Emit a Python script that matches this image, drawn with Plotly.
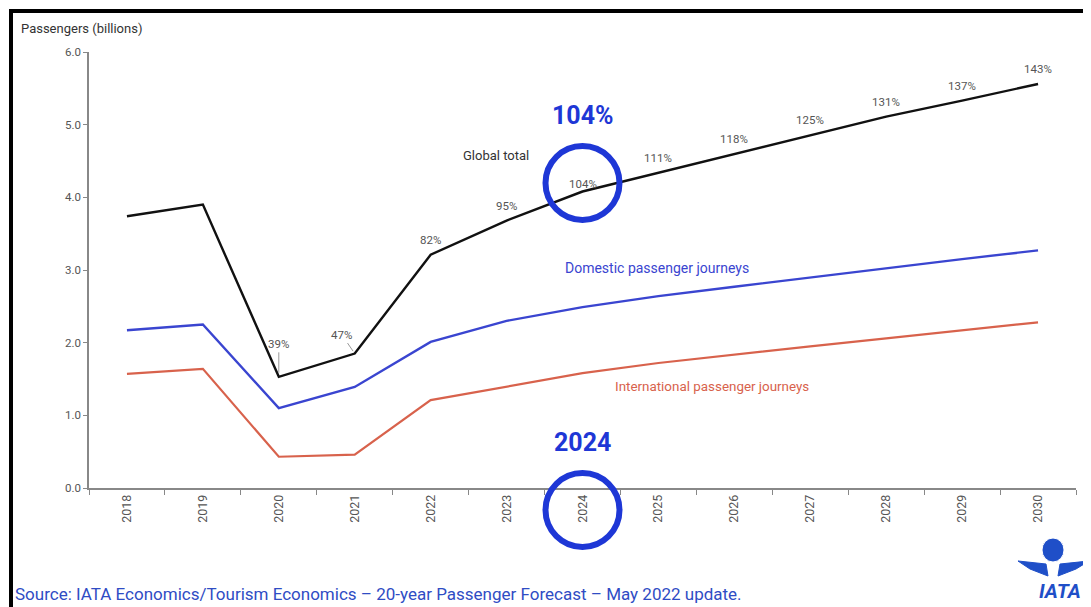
import plotly.graph_objects as go

years = ["2018", "2019", "2020", "2021", "2022", "2023", "2024",
         "2025", "2026", "2027", "2028", "2029", "2030"]
global_total = [3.74, 3.90, 1.53, 1.85, 3.21, 3.68, 4.08, 4.34, 4.60, 4.86, 5.11, 5.33, 5.56]
domestic = [2.17, 2.25, 1.10, 1.39, 2.01, 2.30, 2.49, 2.64, 2.77, 2.90, 3.02, 3.15, 3.27]
international = [1.57, 1.64, 0.43, 0.46, 1.21, 1.39, 1.58, 1.72, 1.84, 1.95, 2.06, 2.17, 2.28]
pct_labels = ["", "", "39%", "47%", "82%", "95%", "104%", "111%", "118%", "125%", "131%", "137%", "143%"]
y_ticks = [0.0, 1.0, 2.0, 3.0, 4.0, 5.0, 6.0]
highlight_year = "2024"
highlight_pct = "104%"

# the page places the figure 8px from the window's top-left corner
OFF = 8
W, H = 1091 - OFF, 607 - OFF
ML, MR, MT = 81, 15, 44
PW, PH = 987, 436
MB = H - MT - PH


def px_x(px):
    return (px - OFF - ML) / PW


def px_y(py):
    return (H - MB - (py - OFF)) / PH


FONT = "Roboto"
GRAY = "#555555"
BLUE = "#1e37d6"
LOGO = "#1f4fc8"

fig = go.Figure()
fig.add_trace(go.Scatter(x=years, y=international, mode="lines",
                         line=dict(color="#d8624c", width=2.2), showlegend=False))
fig.add_trace(go.Scatter(x=years, y=domestic, mode="lines",
                         line=dict(color="#3a45d0", width=2.4), showlegend=False))
fig.add_trace(go.Scatter(x=years, y=global_total, mode="lines",
                         line=dict(color="#111111", width=2.4), showlegend=False))

annotations = []
for i, (v, lab) in enumerate(zip(global_total, pct_labels)):
    if not lab:
        continue
    f = dict(size=11.5, color=GRAY, family=FONT)
    if lab == "39%":
        annotations.append(dict(x=i, y=v, text=lab, showarrow=True, arrowhead=0,
                                arrowwidth=1, arrowcolor="#999999", ax=0, ay=-33,
                                standoff=4, font=f))
    elif lab == "47%":
        annotations.append(dict(x=i, y=v, text=lab, showarrow=True, arrowhead=0,
                                arrowwidth=1, arrowcolor="#999999", ax=-13, ay=-19,
                                standoff=3, font=f))
    else:
        shift = 8 if lab == highlight_pct else 15
        annotations.append(dict(x=i, y=v, text=lab, showarrow=False, yshift=shift, font=f))

hi = years.index(highlight_year)
annotations += [
    dict(x=4.86, y=4.58, text="Global total", showarrow=False,
         font=dict(size=13, color="#333333", family=FONT)),
    dict(x=6.98, y=3.03, text="Domestic passenger journeys", showarrow=False,
         font=dict(size=14, color="#3a45d0", family=FONT)),
    dict(x=7.7, y=1.40, text="International passenger journeys", showarrow=False,
         font=dict(size=13.4, color="#d8624c", family=FONT)),
    dict(x=hi, y=5.13, text="<b>" + highlight_pct + "</b>", showarrow=False,
         font=dict(size=25, color=BLUE, family=FONT)),
    dict(x=hi, y=0.62, text="<b>" + highlight_year + "</b>", showarrow=False,
         font=dict(size=25, color=BLUE, family=FONT)),
    dict(xref="paper", yref="paper", x=px_x(19), y=px_y(28), xanchor="left",
         yanchor="middle", text="Passengers (billions)", showarrow=False,
         font=dict(size=13, color="#333333", family=FONT)),
    dict(xref="paper", yref="paper", x=px_x(13), y=px_y(594), xanchor="left",
         yanchor="middle",
         text="Source: IATA Economics/Tourism Economics \u2013 20-year Passenger Forecast \u2013 May 2022 update.",
         showarrow=False, font=dict(size=17, color="#2f4cc4", family=FONT)),
    dict(xref="paper", yref="paper", x=px_x(1060), y=px_y(591), xanchor="center",
         yanchor="middle", text="<b><i>IATA</i></b>", showarrow=False,
         font=dict(size=20, color=LOGO, family=FONT)),
]

cx = (hi + 0.5) / len(years)
shapes = [
    dict(type="circle", xref="paper", yref="paper", xsizemode="pixel", ysizemode="pixel",
         xanchor=cx, yanchor=px_y(183), x0=-37, x1=37, y0=-37, y1=37,
         line=dict(color=BLUE, width=6)),
    dict(type="circle", xref="paper", yref="paper", xsizemode="pixel", ysizemode="pixel",
         xanchor=cx, yanchor=px_y(510), x0=-37, x1=37, y0=-37, y1=37,
         line=dict(color=BLUE, width=6)),
    dict(type="path", xref="paper", yref="paper",
         path="M %f %f L %f %f L %f %f" % (px_x(11), px_y(620), px_x(11), px_y(11),
                                             px_x(1100), px_y(11)),
         line=dict(color="#000000", width=4)),
    # IATA globe and wings
    dict(type="circle", xref="paper", yref="paper", xsizemode="pixel", ysizemode="pixel",
         xanchor=px_x(1053), yanchor=px_y(550), x0=-11, x1=11, y0=-12, y1=12,
         fillcolor=LOGO, line=dict(color="white", width=1)),
    dict(type="path", xref="paper", yref="paper",
         path="M %f %f L %f %f L %f %f L %f %f Z" % (px_x(1018), px_y(561), px_x(1046), px_y(564),
                                                       px_x(1048), px_y(576), px_x(1030), px_y(569)),
         fillcolor=LOGO, line=dict(color=LOGO, width=1)),
    dict(type="path", xref="paper", yref="paper",
         path="M %f %f L %f %f L %f %f L %f %f Z" % (px_x(1089), px_y(561), px_x(1060), px_y(564),
                                                       px_x(1058), px_y(576), px_x(1076), px_y(569)),
         fillcolor=LOGO, line=dict(color=LOGO, width=1)),
]

fig.update_layout(
    width=W, height=H, autosize=False,
    margin=dict(l=ML, r=MR, t=MT, b=MB),
    paper_bgcolor="white", plot_bgcolor="white",
    showlegend=False,
    annotations=annotations,
    shapes=shapes,
    font=dict(family=FONT, color=GRAY),
)
fig.update_xaxes(type="category", range=[-0.5, len(years) - 0.5], tickangle=-90,
                 tickson="boundaries", ticks="outside", ticklen=5, tickcolor="#888888",
                 showline=True, linecolor="#888888", linewidth=1.5, showgrid=False,
                 zeroline=False, tickfont=dict(size=12.5, color=GRAY, family=FONT))
fig.update_yaxes(range=[0, 6], tickvals=y_ticks, tickformat=".1f", ticks="outside",
                 ticklen=4, tickcolor="#888888", showline=True, linecolor="#888888",
                 linewidth=1.5, showgrid=False, zeroline=False,
                 tickfont=dict(size=11.5, color=GRAY, family=FONT))

fig.write_html("out.html")
